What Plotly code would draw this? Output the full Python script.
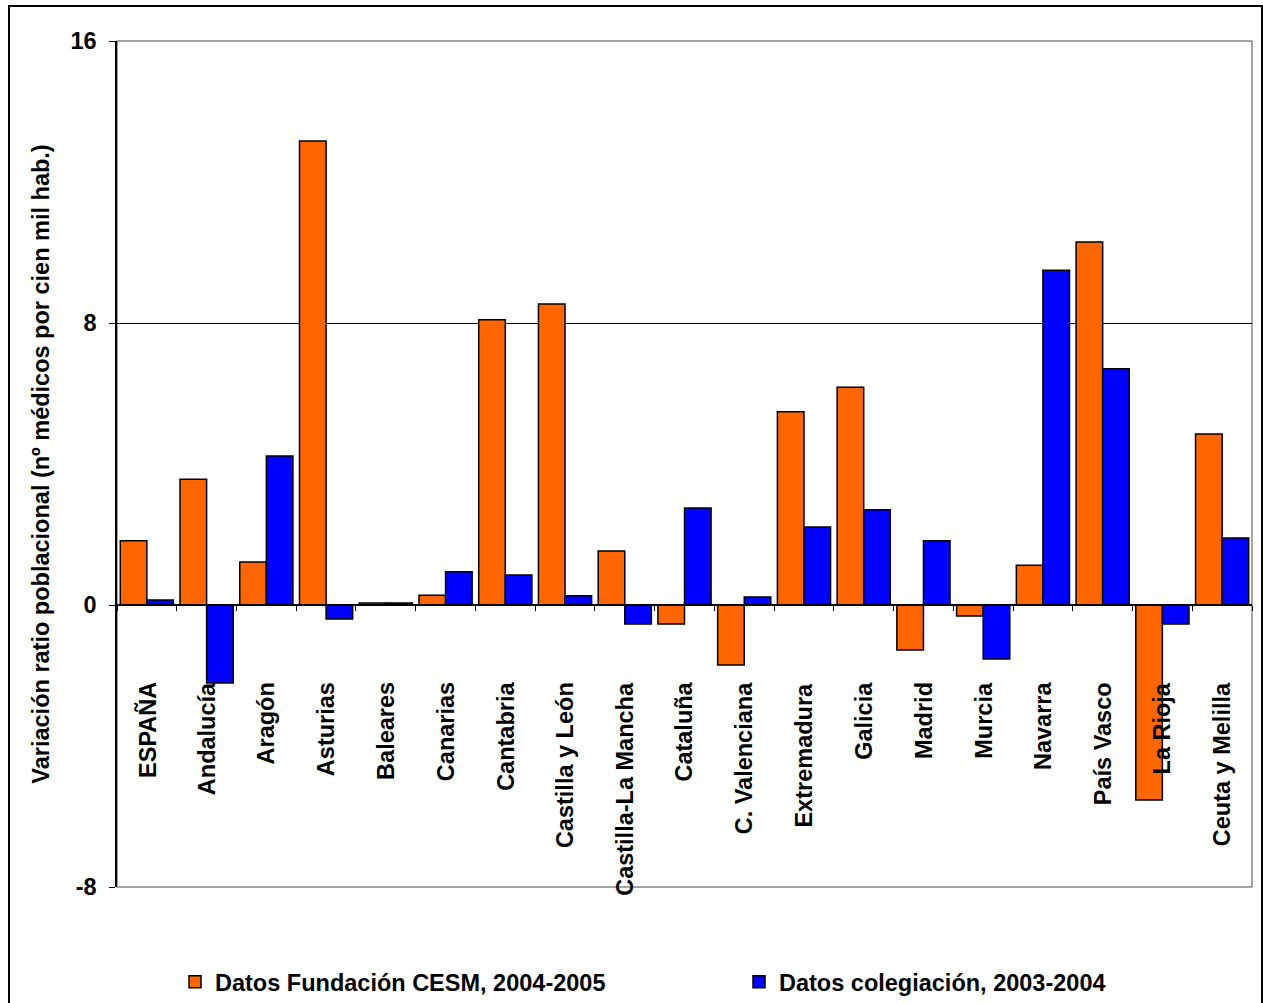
import plotly.graph_objects as go

categories = ["ESPAÑA", "Andalucía", "Aragón", "Asturias", "Baleares", "Canarias",
              "Cantabria", "Castilla y León", "Castilla-La Mancha", "Cataluña",
              "C. Valenciana", "Extremadura", "Galicia", "Madrid", "Murcia",
              "Navarra", "País Vasco", "La Rioja", "Ceuta y Melilla"]
cesm = [1.82, 3.57, 1.22, 13.16, 0.06, 0.28, 8.09, 8.54, 1.53, -0.54,
        -1.70, 5.48, 6.18, -1.28, -0.31, 1.13, 10.30, -5.53, 4.85]
colegiacion = [0.14, -2.21, 4.23, -0.40, 0.06, 0.94, 0.85, 0.26, -0.54, 2.75,
               0.23, 2.21, 2.70, 1.82, -1.53, 9.50, 6.70, -0.54, 1.90]
y_ticks = [-8, 0, 8, 16]

FONT = "Arial, Liberation Sans, sans-serif"
FS = 23.5
W, H = 1263, 1003
L, R, T, B = 117, 11, 41, 116
pw = W - L - R
ph = H - T - B

fig = go.Figure()
fig.add_trace(go.Bar(x=categories, y=cesm, name="Datos Fundación CESM, 2004-2005",
                     marker=dict(color="#FF6600", line=dict(color="black", width=1.5)),
                     legend="legend"))
fig.add_trace(go.Bar(x=categories, y=colegiacion, name="Datos colegiación, 2003-2004",
                     marker=dict(color="#0000FF", line=dict(color="black", width=1.5)),
                     legend="legend2"))

annotations = []
for c in categories:
    annotations.append(dict(x=c, y=-2.13, xref="x", yref="y", text=c, textangle=-90,
                            showarrow=False, xanchor="center", yanchor="top",
                            font=dict(family=FONT, size=FS, color="black", weight="bold")))

shapes = [
    dict(type="rect", xref="paper", yref="paper", x0=0, x1=1, y0=0, y1=1,
         line=dict(color="#888888", width=1.5), layer="below"),
    dict(type="rect", xref="paper", yref="paper",
         x0=(9 - L) / pw, x1=(1262 - L) / pw,
         y0=-(1030 - (H - B)) / ph, y1=1 + (T - 6) / ph,
         line=dict(color="black", width=2)),
]

legend_y = (887 - 982) / ph
leg_font = dict(family=FONT, size=FS, color="black", weight="bold")

fig.update_layout(
    width=W, height=H,
    margin=dict(l=L, r=R, t=T, b=B, autoexpand=False),
    paper_bgcolor="white", plot_bgcolor="white",
    barmode="group", bargap=0.11, bargroupgap=0,
    font=dict(family=FONT, size=FS, color="black"),
    showlegend=True,
    legend=dict(orientation="h", x=(175 - L) / pw, y=legend_y, xanchor="left",
                yanchor="middle", font=leg_font, bgcolor="rgba(0,0,0,0)"),
    legend2=dict(orientation="h", x=(739 - L) / pw, y=legend_y, xanchor="left",
                 yanchor="middle", font=leg_font, bgcolor="rgba(0,0,0,0)"),
    xaxis=dict(type="category", anchor="free", position=1/3, showline=True,
               linecolor="black", linewidth=1.5, ticks="outside", tickson="boundaries",
               ticklen=5, tickcolor="black", showticklabels=False, showgrid=False,
               zeroline=False, range=[-0.5, len(categories) - 0.5]),
    yaxis=dict(range=[-8, 16], tickvals=y_ticks, ticktext=[str(v) for v in y_ticks],
               showline=True, linecolor="black", linewidth=1.5, ticks="outside",
               ticklen=6, tickcolor="black", showgrid=True, gridcolor="black",
               gridwidth=1, zeroline=False, ticklabelstandoff=8,
               tickfont=dict(family=FONT, size=FS, color="black", weight="bold"),
               title=dict(text="Variación ratio poblacional (nº médicos por cien mil hab.)",
                          font=dict(family=FONT, size=FS, color="black", weight="bold"),
                          standoff=14)),
    annotations=annotations,
    shapes=shapes,
)

fig.write_html("out.html")
